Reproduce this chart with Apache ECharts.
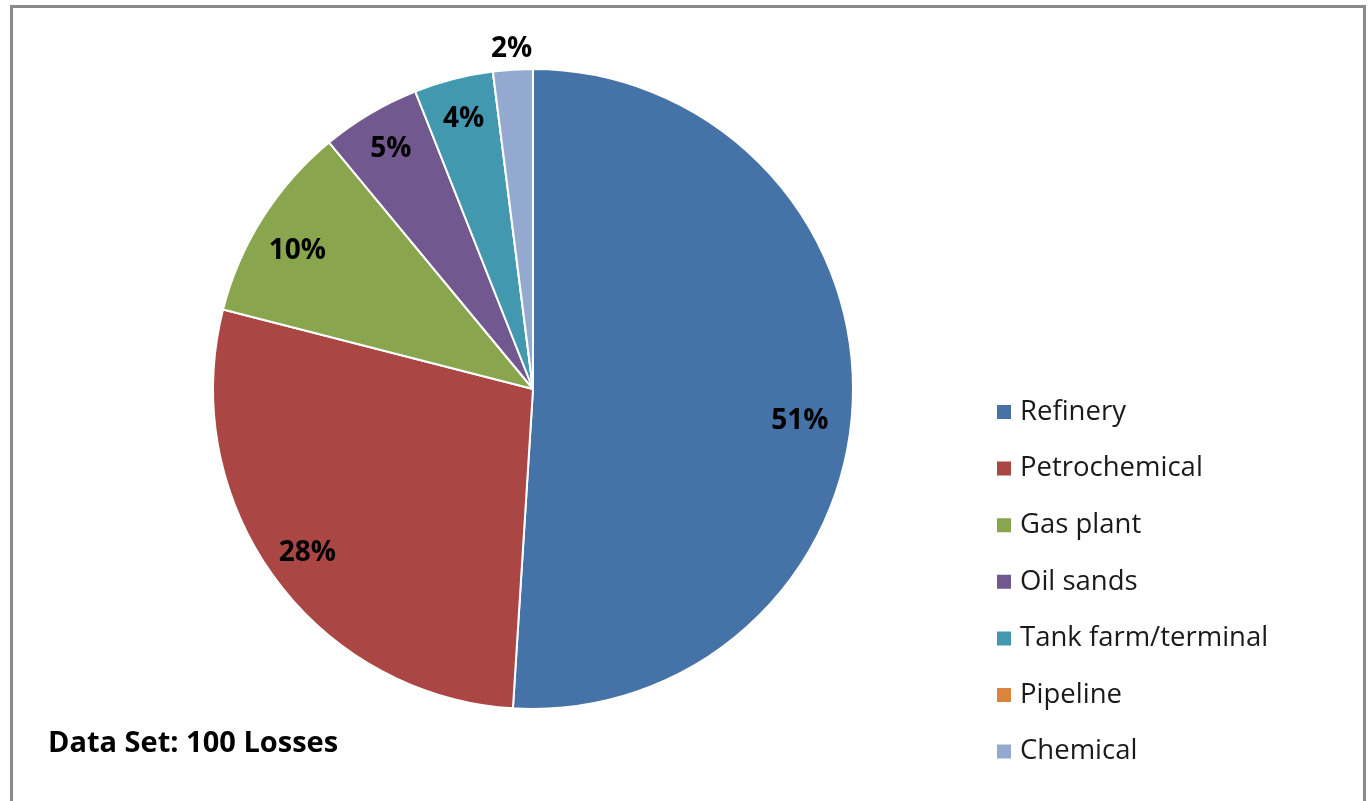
<!DOCTYPE html>
<html>
<head>
<meta charset="utf-8">
<script src="https://cdn.jsdelivr.net/npm/echarts@6/dist/echarts.min.js"></script>
<style>
html,body{margin:0;padding:0;background:#fff;}
#chart{position:absolute;left:0;top:0;width:1371px;height:801px;}
#frame{position:absolute;left:10px;top:5px;width:1350px;height:820px;border:3px solid #8a8a8a;border-bottom:none;pointer-events:none;}
</style>
</head>
<body>
<div id="chart"></div>
<div id="frame"></div>
<script>
const categories = ['Refinery','Petrochemical','Gas plant','Oil sands','Tank farm/terminal','Pipeline','Chemical'];
const values = [51, 28, 10, 5, 4, 0, 2];
const colors = ['#4572A7','#AA4643','#89A54E','#71588F','#4198AF','#DB843D','#93A9CF'];
const outsideLabel = ['Chemical'];
const footnote = 'Data Set: 100 Losses';

const FONT = 'Open Sans';
const center = [533, 389];
const R = 320;
// small label nudges (Excel best-fit placement)
const labelNudge = { 'Refinery': [-12, 23], 'Gas plant': [0, 12] };

const baseData = categories.map((c, i) => ({ name: c, value: values[i], itemStyle: { color: colors[i] } }));
const innerLabelData = categories.map((c, i) => ({
  name: c, value: values[i],
  label: { show: values[i] > 0 && !outsideLabel.includes(c) }
}));
const outerLabelData = categories.map((c, i) => ({
  name: c, value: values[i],
  label: { show: values[i] > 0 && outsideLabel.includes(c) }
}));

const labelStyle = {
  position: 'inside',
  formatter: p => p.value + '%',
  fontFamily: FONT, fontWeight: 'bold', fontSize: 28, color: '#000'
};

const chart = echarts.init(document.getElementById('chart'), null, { renderer: 'canvas' });
chart.setOption({
  animation: false,
  backgroundColor: '#fff',
  title: {
    text: footnote, left: 43, top: 724,
    textStyle: { fontFamily: FONT, fontWeight: 'bold', fontSize: 29, color: '#000' }
  },
  legend: {
    orient: 'vertical', left: 990, top: 392,
    itemWidth: 16, itemHeight: 16, itemGap: 26.6,
    icon: 'rect',
    data: categories,
    textStyle: { fontFamily: FONT, fontSize: 27.5, color: '#1a1a1a', padding: [0, 0, 0, 3], lineHeight: 30 }
  },
  series: [
    {
      type: 'pie', center: center, radius: [0, R], startAngle: 90, clockwise: true,
      data: baseData,
      label: { show: false }, labelLine: { show: false },
      itemStyle: { borderColor: '#fff', borderWidth: 2 },
      emphasis: { disabled: true }, silent: true
    },
    {
      type: 'pie', center: center, radius: [232, R], startAngle: 90, clockwise: true,
      data: innerLabelData, legendHoverLink: false,
      itemStyle: { color: 'rgba(0,0,0,0)' },
      label: labelStyle, labelLine: { show: false },
      labelLayout: function (p) {
        const n = labelNudge[categories[p.dataIndex]];
        return n ? { dx: n[0], dy: n[1] } : {};
      },
      emphasis: { disabled: true }, silent: true
    },
    {
      type: 'pie', center: center, radius: [R, 356], startAngle: 90, clockwise: true,
      data: outerLabelData, legendHoverLink: false,
      itemStyle: { color: 'rgba(0,0,0,0)' },
      label: labelStyle, labelLine: { show: false },
      emphasis: { disabled: true }, silent: true
    }
  ]
});
</script>
</body>
</html>
